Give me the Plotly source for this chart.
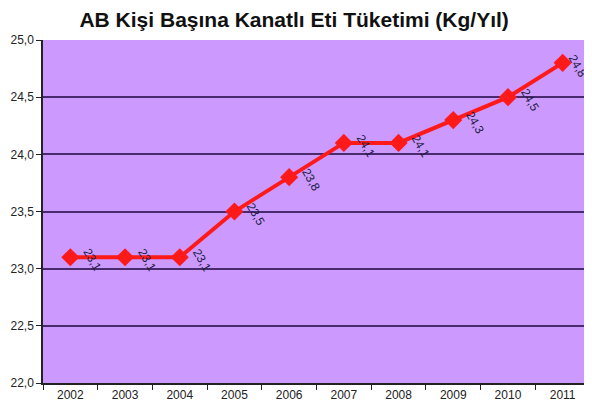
import plotly.graph_objects as go

years = ["2002", "2003", "2004", "2005", "2006", "2007", "2008", "2009", "2010", "2011"]
values = [23.1, 23.1, 23.1, 23.5, 23.8, 24.1, 24.1, 24.3, 24.5, 24.8]
labels = ["23,1", "23,1", "23,1", "23,5", "23,8", "24,1", "24,1", "24,3", "24,5", "24,8"]

fig = go.Figure()
fig.add_trace(go.Scatter(
    x=years, y=values, mode="lines+markers",
    line=dict(color="#FF1A1A", width=4),
    marker=dict(symbol="diamond", size=14, color="#FF1A1A"),
    cliponaxis=False, showlegend=False,
))

for i, (yv, t) in enumerate(zip(values, labels)):
    last = i == len(values) - 1
    fig.add_annotation(x=i, y=yv, xref="x", yref="y", text=t, showarrow=False,
                       textangle=60, xanchor="center", yanchor="middle",
                       xshift=15 if last else 22, yshift=-3,
                       font=dict(family="Arial, Liberation Sans", size=12, color="#1a1a40"))

# page body has an 8px margin, so the figure is sized/offset to compensate
fig.update_layout(
    width=584, height=407,
    margin=dict(l=32, r=2, t=32, b=32),
    paper_bgcolor="white",
    plot_bgcolor="#CC99FF",
    separators=",.",
    title=dict(text="<b>AB Kişi Başına Kanatlı Eti Tüketimi (Kg/Yıl)</b>",
               x=0.49, xanchor="center", y=0.972, yanchor="middle",
               font=dict(family="Arial, Liberation Sans", size=21, color="#111111")),
    xaxis=dict(type="category", range=[-0.5, 9.5], tickson="boundaries",
               ticks="outside", ticklen=5, tickcolor="#222222",
               showline=True, linecolor="#222222", linewidth=1.5,
               showgrid=False,
               tickfont=dict(family="Arial, Liberation Sans", size=12, color="#222222")),
    yaxis=dict(range=[22.0, 25.0], dtick=0.5, tickformat=".1f",
               ticks="outside", ticklen=5, tickcolor="#222222",
               showline=True, linecolor="#222222", linewidth=1.5,
               showgrid=True, gridcolor="#4A2A6E", gridwidth=2,
               zeroline=False,
               tickfont=dict(family="Arial, Liberation Sans", size=12, color="#222222")),
)

fig.write_html("out.html")
